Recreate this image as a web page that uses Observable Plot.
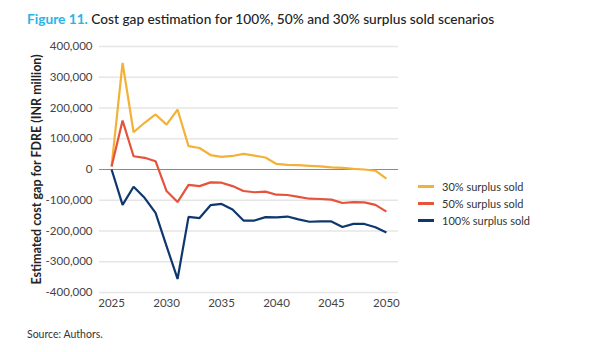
<!DOCTYPE html>
<html>
<head>
<meta charset="utf-8">
<script src="https://cdn.jsdelivr.net/npm/d3@7"></script>
<script src="https://cdn.jsdelivr.net/npm/@observablehq/plot@0.6"></script>
<style>
  html, body { margin: 0; padding: 0; background: #fff; }
  body { width: 600px; height: 352px; position: relative; overflow: hidden; font-family: Lato, "Noto Sans", sans-serif; }
  #title { position: absolute; left: 27px; top: 10px; font-size: 13.7px; color: #222; font-weight: 500; white-space: nowrap; }
  #title .fig { color: #2AB4E6; font-weight: 700; }
  #chart { position: absolute; left: 0; top: 30px; }
  #legend { position: absolute; left: 418px; top: 178px; font-size: 11px; color: #333; }
  #legend .item { display: flex; align-items: center; height: 17px; }
  #legend .sw { width: 16px; height: 2.5px; margin-right: 8px; }
  #source { position: absolute; left: 27px; top: 328px; font-size: 10.5px; color: #333; }
</style>
</head>
<body>
<div id="title"><span class="fig">Figure 11.</span> Cost gap estimation for 100%, 50% and 30% surplus sold scenarios</div>
<div id="chart"></div>
<div id="legend"></div>
<div id="source">Source: Authors.</div>
<script>
const years = d3.range(2025, 2051);
const seriesNames = ["30% surplus sold", "50% surplus sold", "100% surplus sold"];
const seriesColors = ["#F4B136", "#E6533B", "#0E376E"];
const surplus30 = [10000, 347000, 121000, 152000, 179000, 146000, 195000, 76000, 70000, 47000, 41000, 44000, 51000, 45000, 39000, 18000, 15000, 14000, 12000, 10000, 7000, 5000, 2000, 0, -4000, -30000];
const surplus50 = [10000, 159000, 43000, 38000, 27000, -70000, -106000, -50000, -54000, -42000, -43000, -54000, -70000, -74000, -72000, -82000, -83000, -89000, -95000, -96000, -98000, -109000, -106000, -107000, -115000, -137000];
const surplus100 = [0, -115000, -56000, -92000, -141000, -249000, -356000, -154000, -158000, -116000, -112000, -130000, -166000, -166000, -155000, -156000, -153000, -162000, -170000, -169000, -169000, -187000, -177000, -177000, -188000, -205000];
const yTicks = [400000, 300000, 200000, 100000, 0, -100000, -200000, -300000, -400000];
const xTicks = [2025, 2030, 2035, 2040, 2045, 2050];

const allSeries = [surplus30, surplus50, surplus100];
const data = [];
allSeries.forEach((vals, i) => vals.forEach((v, j) => data.push({year: years[j], value: v, series: seriesNames[i]})));

const fmt = d => d.toLocaleString("en-US");

const chart = Plot.plot({
  width: 600,
  height: 290,
  marginLeft: 99,
  marginRight: 202,
  marginTop: 16,
  marginBottom: 28,
  style: { fontFamily: "Lato, 'Noto Sans', sans-serif", fontSize: "11.5px", color: "#444", background: "transparent" },
  x: { domain: [2023.9, 2051.1], ticks: xTicks, tickFormat: d => String(d), tickSize: 0, tickPadding: 6, label: null },
  y: { domain: [-400000, 400000], ticks: yTicks, tickFormat: fmt, tickSize: 0, tickPadding: 7,
       label: "Estimated cost gap for FDRE (INR million)", labelAnchor: "center", labelArrow: "none", labelOffset: 67 },
  color: { domain: seriesNames, range: seriesColors },
  marks: [
    Plot.gridY(yTicks.filter(d => d !== 0), { stroke: "#e6e6e6", strokeOpacity: 1, strokeWidth: 1.5 }),
    Plot.ruleY([0], { stroke: "#8a8a8a", strokeWidth: 1.2 }),
    Plot.line(data, { x: "year", y: "value", z: "series", stroke: "series", strokeWidth: 2.2, strokeLinejoin: "miter", strokeLinecap: "butt" })
  ]
});
chart.querySelectorAll('g[aria-label="y-axis label"]').forEach(el => {
  el.setAttribute("font-weight", "bold");
  el.setAttribute("font-size", "12.5px");
  el.setAttribute("fill", "#222");
  el.querySelectorAll("text").forEach(t => { t.style.fontWeight = "bold"; t.style.fontSize = "12.5px"; });
});
document.getElementById("chart").appendChild(chart);

const legend = document.getElementById("legend");
seriesNames.forEach((name, i) => {
  const item = document.createElement("div");
  item.className = "item";
  const sw = document.createElement("span");
  sw.className = "sw";
  sw.style.background = seriesColors[i];
  const t = document.createElement("span");
  t.textContent = name;
  item.appendChild(sw); item.appendChild(t);
  legend.appendChild(item);
});
</script>
</body>
</html>
